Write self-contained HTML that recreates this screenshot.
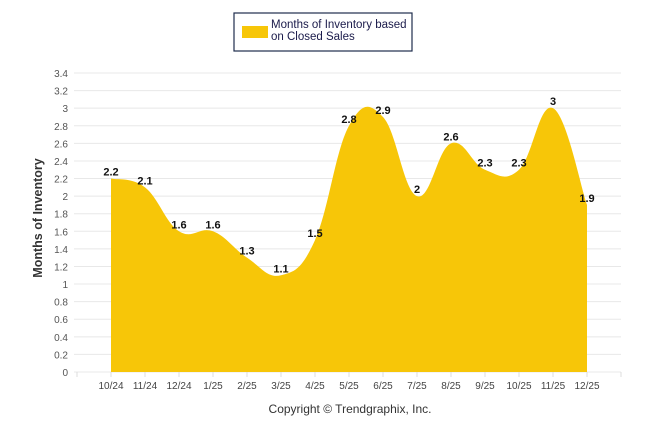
<!DOCTYPE html>
<html><head><meta charset="utf-8"><style>
body{margin:0;background:#fff;font-family:"Liberation Sans",sans-serif}
svg text{font-family:"Liberation Sans",sans-serif}
</style></head><body>
<svg width="646" height="434">
<g id="grid"></g>
<g id="area"></g>
<g id="labels"></g>
<g>
<rect x="234" y="13" width="178" height="38" fill="#fff" stroke="#1f2d4d" stroke-width="1.2"/>
<rect x="242" y="26" width="26" height="12" fill="#f7c608"/>
<text x="271" y="28" font-size="11.5" fill="#1a1a4a">Months of Inventory based</text>
<text x="271" y="40" font-size="11.5" fill="#1a1a4a">on Closed Sales</text>
</g>
<text transform="translate(42,218) rotate(-90)" text-anchor="middle" font-size="12.5" font-weight="bold" fill="#333">Months of Inventory</text>
<text x="350" y="413" text-anchor="middle" font-size="12" fill="#333">Copyright © Trendgraphix, Inc.</text>
</svg>
<script>
const categories=["10/24","11/24","12/24","1/25","2/25","3/25","4/25","5/25","6/25","7/25","8/25","9/25","10/25","11/25","12/25"];
const values=[2.2,2.1,1.6,1.6,1.3,1.1,1.5,2.8,2.9,2,2.6,2.3,2.3,3,1.9];
const yTicks=[0,0.2,0.4,0.6,0.8,1,1.2,1.4,1.6,1.8,2,2.2,2.4,2.6,2.8,3,3.2,3.4];
const NS="http://www.w3.org/2000/svg";
const x0=77,x1=621,bw=(x1-x0)/(categories.length+1);
const y=v=>372-v*(299/3.4);
const x=i=>x0+bw*(i+1);
function mk(t,a,p){const e=document.createElementNS(NS,t);for(const k in a)e.setAttribute(k,a[k]);p.appendChild(e);return e;}
const g=document.getElementById('grid');
yTicks.forEach(v=>{
 const l=mk('line',{x1:x0-3,x2:x1,y1:y(v),y2:y(v),stroke:'#e8e8e8'},g);
 
 
 const t=mk('text',{x:68,y:y(v)+4,'text-anchor':'end','font-size':10,fill:'#555'},g);t.textContent=String(v);
 
 
});
for(let i=0;i<=categories.length+1;i++){
 const tk=mk('line',{x1:x0+bw*i,x2:x0+bw*i,y1:372,y2:377,stroke:'#ddd'},g);
 
 
}
categories.forEach((c,i)=>{
 const t=mk('text',{x:x(i),y:389,'text-anchor':'middle','font-size':10,fill:'#444'},g);t.textContent=c;
 
 
});
const pts=values.map((v,i)=>[x(i),y(v)]);
let d=`M${pts[0][0]},372 L${pts[0][0]},${pts[0][1]}`;
const k=0.2;
for(let i=0;i<pts.length-1;i++){
 const p0=pts[Math.max(0,i-1)],p1=pts[i],p2=pts[i+1],p3=pts[Math.min(pts.length-1,i+2)];
 const c1=[p1[0]+(p2[0]-p0[0])*k,p1[1]+(p2[1]-p0[1])*k];
 const c2=[p2[0]-(p3[0]-p1[0])*k,p2[1]-(p3[1]-p1[1])*k];
 d+=` C${c1[0]},${c1[1]} ${c2[0]},${c2[1]} ${p2[0]},${p2[1]}`;
}
d+=` L${pts[pts.length-1][0]},372 Z`;
const a=mk('path',{d:d,fill:'#f7c608'},document.getElementById('area'));


const lg=document.getElementById('labels');
values.forEach((v,i)=>{
 const t=mk('text',{x:x(i),y:y(v)-3,'text-anchor':'middle','font-size':11,'font-weight':'bold',fill:'#111'},lg);t.textContent=String(v);
 
 
});
</script>
</body></html>
